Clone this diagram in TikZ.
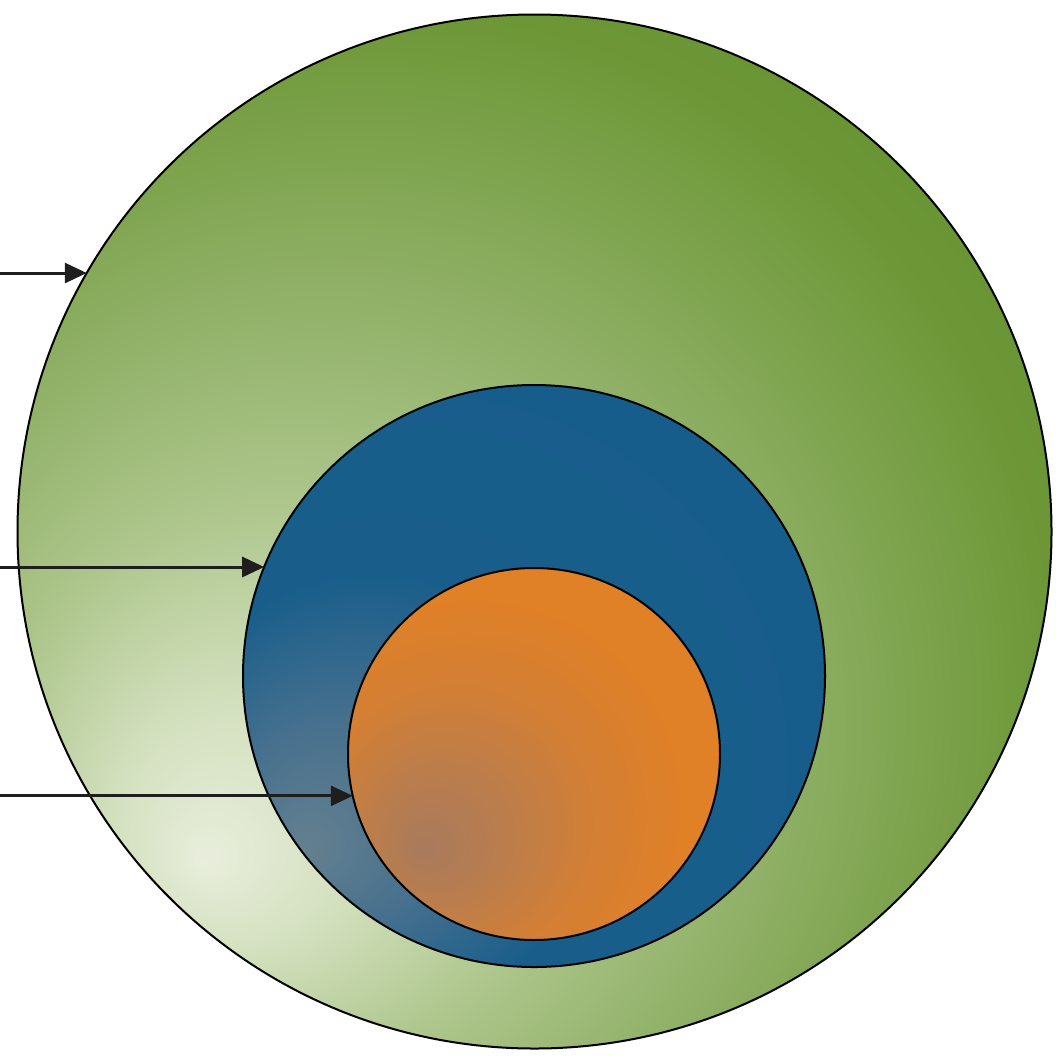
\documentclass[tikz,border=0pt]{standalone}
\usetikzlibrary{arrows.meta}
\definecolor{gA}{HTML}{E8EEDC}
\definecolor{gB}{HTML}{D3E0BE}
\definecolor{gC}{HTML}{ACC58A}
\definecolor{gD}{HTML}{8FB066}
\definecolor{gE}{HTML}{6E9838}
\definecolor{gF}{HTML}{5E8C2A}
\definecolor{bA}{HTML}{64808F}
\definecolor{bB}{HTML}{46708E}
\definecolor{bC}{HTML}{195E8B}
\definecolor{bD}{HTML}{145C8A}
\definecolor{oA}{HTML}{A87A5C}
\definecolor{oB}{HTML}{BB7D4C}
\definecolor{oC}{HTML}{D27F35}
\definecolor{oD}{HTML}{E08027}
\definecolor{arrcol}{HTML}{1E1E1E}
\pgfdeclareradialshading{greenrad}{\pgfpoint{-16bp}{-16bp}}{color(0bp)=(gA); color(6bp)=(gB); color(14bp)=(gC); color(22bp)=(gD); color(32bp)=(gE); color(42bp)=(gF); color(60bp)=(gF)}
\pgfdeclareradialshading{bluerad}{\pgfpoint{-20bp}{-15bp}}{color(0bp)=(bA); color(9bp)=(bB); color(19bp)=(bC); color(60bp)=(bD)}
\pgfdeclareradialshading{orangerad}{\pgfpoint{-15bp}{-13bp}}{color(0bp)=(oA); color(9bp)=(oB); color(18bp)=(oC); color(28bp)=(oD); color(60bp)=(oD)}
\tikzset{
  ring/.style={circle, draw=black, line width=2pt, inner sep=0pt, outer sep=0pt},
  pointer/.style={draw=arrcol, line width=3pt, -{Triangle[length=22pt,width=20pt]}}
}
\begin{document}
\begin{tikzpicture}[x=1pt,y=-1pt]
\fill[white] (0,0) rectangle (1056,1055);
\useasboundingbox (0,0) rectangle (1056,1055);
\node[ring, minimum size=1034pt, shading=greenrad] (big) at (534.5,531.5) {};
\node[ring, minimum size=582pt, shading=bluerad] (mid) at (534,676) {};
\node[ring, minimum size=372pt, shading=orangerad] (core) at (534,754) {};
\coordinate (L) at (0,0);
\draw[pointer] (L |- big.150) -- (big.150);
\draw[pointer] (L |- mid.158.2) -- (mid.158.2);
\draw[pointer] (L |- core.193.7) -- (core.193.7);
\end{tikzpicture}
\end{document}
